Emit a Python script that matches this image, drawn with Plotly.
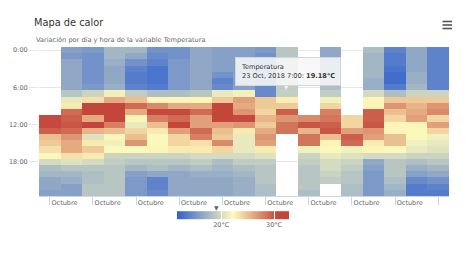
import plotly.graph_objects as go

N = None
hours = list(range(24))
days = ["12 Oct", "13 Oct", "14 Oct", "15 Oct", "16 Oct", "17 Oct", "18 Oct", "19 Oct", "20 Oct", "21 Oct",
        "22 Oct", "23 Oct", "24 Oct", "25 Oct", "26 Oct", "27 Oct", "28 Oct", "29 Oct", "30 Oct"]

d12 = [N,N,N,N,N,N,N,N,N,N,N,30.5,30.5,29.5,25,24.5,23.5,22,20,18,17.5,16.5,16.5,16]
d13 = [16,15.5,16.5,16.5,16.5,16.5,16.5,18.5,21,23,29,29.5,30,29,27,26,26,23.5,20.5,18.5,17.5,17,16,16]
d14 = [15.5,15,15,15,15,15,15.5,19.5,23.5,31,31,26,32,25.5,20.5,23,24.5,23,20,18.5,18,18,18.5,18.5]
d15 = [17.5,17.5,17,16.5,16.5,16.5,17,21.5,26,31,31,31,28,25,22.5,21.5,22,19.5,19,18.5,18.5,18.5,18.5,18.5]
d16 = [17.5,16.5,15,14,13.5,13.5,14,19,25,29,26,22.5,21,24,25,27,22,19.5,18.5,17.5,16,15.5,15.5,15.5]
d17 = [15,14.5,14,13,13,13,13.5,18,22.5,27.5,30.5,28,25,23,22,22,22.5,19.5,18.5,18,16.5,14,14,14.5]
d18 = [15,15,15.5,15.5,15.5,15.5,15.5,18,22.5,26,30.5,29,31,26.5,24,24,23,19.5,18.5,17.5,16.5,16.5,16.5,16.5]
d19 = [16.5,16.5,16.5,16.5,16.5,16.5,16.5,18.5,22.5,26,29,26.5,26.5,29,28,23.5,23,20,19,18,17,16.5,16.5,16.5]
d20 = [16,16,16,16,15,14,14.5,21,24.5,31,31,31,26.5,25,24.5,27.5,24,20,18,17.5,17,16.5,16.5,16.5]
d21 = [16,16,16,16,16,16,16,21.5,26.5,26,27,30.5,27,23,21,21,21,20,19,18,17.5,17,17,17]
d22 = [15.5,15,15,15,15,14.5,14.5,14.5,24.5,24.5,24,25.5,24.5,26,27,26.5,23,20.5,19,18.5,18.5,18.5,18,18]
d23 = [18.5,18.5,19,19,19,19,19,19.18,22.8,24.5,29.5,27,28.5,28.5,N,N,N,N,N,N,N,N,N,N]
d24 = [N,N,N,N,N,N,N,N,N,N,N,27.5,30,25.5,28.5,28.5,21.5,19.5,19,18.5,18.5,18.5,18.5,18]
d25 = [16.5,16.5,16.5,16.5,17,17,18,19,21.5,24,28,28.5,29.5,30,25,22.5,22,21,20,20,19.5,19,N,N]
d26 = [N,N,N,N,N,N,N,N,N,N,N,24,24,26.5,29.5,29,21.5,20.5,19.5,19,18.5,18.5,18,18]
d27 = [18,17.5,17.5,17.5,17.5,17,17,20,22.5,22.5,29.5,29.5,30,27,26.5,23,22.5,20,16.5,16,15.5,15.5,15.5,15.5]
d28 = [14,13.5,13.5,13,12.5,12.5,13.5,18,24.5,27,25,24,22.5,22.5,25,25,22,20,18.5,18.5,18.5,18,17.5,17]
d29 = [16.5,16.5,16.5,16.5,17,17,17.5,19.5,24.5,25.5,26,26.5,22.5,22,22,21.5,21,19.5,18,17,16,14.5,13.5,13.5]
d30 = [14,14,14,14,14,14,14,19.5,24.5,27,27.5,24,26.5,24,21.5,21,20.5,19.5,18.5,17.5,16.5,15,14,13.5]
by_day = [d12,d13,d14,d15,d16,d17,d18,d19,d20,d21,d22,d23,d24,d25,d26,d27,d28,d29,d30]

y_ticks = [0, 6, 12, 18]
y_labels = ["0:00", "6:00", "12:00", "18:00"]
x_label = "Octubre"
scale_ticks = [20, 30]
scale_labels = ["20°C", "30°C"]

W, H = 466, 262
L, R, T, B = 38.5, 449, 47, 196
px = lambda v: (v - L) / (R - L)
py = lambda v: (B - v) / (B - T)

z = [[by_day[d][h] for d in range(len(days))] for h in hours]
FONT = "DejaVu Sans"

fig = go.Figure(go.Heatmap(
    z=z, x=list(range(len(days))), y=hours,
    zmin=11.6, zmax=32.8,
    colorscale=[[0, "#3060cf"], [0.5, "#fffbbc"], [0.9, "#c4463a"], [1, "#c4463a"]],
    hoverongaps=False,
    customdata=[[days[d] for d in range(len(days))] for _ in hours],
    hovertemplate="Temperatura<br>%{customdata}, 2018 %{y}:00: <b>%{z}°C</b><extra></extra>",
    colorbar=dict(
        orientation="h", lenmode="pixels", len=112, thickness=8,
        x=201 / W, xref="container", xanchor="left",
        y=(H - 238) / H, yref="container", yanchor="bottom",
        xpad=0, ypad=0, outlinewidth=0,
        tickmode="array", tickvals=scale_ticks, ticktext=scale_labels,
        ticks="inside", ticklen=8, tickcolor="white", tickwidth=1,
        tickfont=dict(family=FONT, size=6.5, color="#666666"),
    ),
))

fig.update_layout(
    width=W, height=H, autosize=False,
    margin=dict(l=L, r=W - R, t=T, b=H - B, pad=0, autoexpand=False),
    paper_bgcolor="white", plot_bgcolor="white",
    title=dict(text="Mapa de calor", x=34 / W, xref="container", xanchor="left",
               y=1 - 22.7 / H, yref="container", yanchor="middle",
               font=dict(family=FONT, size=9.8, color="#333333")),
    xaxis=dict(
        range=[-0.5, 18.5], showgrid=False, zeroline=False,
        showline=True, linecolor="#ccd6eb", linewidth=1,
        tickmode="array",
        tickvals=[i + 0.68 for i in range(0, 18, 2)],
        ticktext=[x_label] * 9, ticks="outside", ticklen=0, tickcolor="#ccd6eb",
        tickfont=dict(family=FONT, size=6.5, color="#666666"),
        minor=dict(ticks="outside", ticklen=8, tickcolor="#ccd6eb", showgrid=False,
                   tickmode="array", tickvals=list(range(0, 19, 2))),
    ),
    yaxis=dict(
        range=[23.5, -0.5], zeroline=False, showgrid=True, gridcolor="#e6e6e6", gridwidth=1,
        tickmode="array", tickvals=y_ticks, ticktext=y_labels,
        ticks="outside", ticklen=9, tickcolor="#e6e6e6",
        tickfont=dict(family=FONT, size=6.5, color="#666666"),
    ),
    annotations=[
        dict(text="Variación por día y hora de la variable Temperatura", xref="paper", yref="paper",
             x=px(33), y=py(40), xanchor="left", yanchor="middle", showarrow=False,
             font=dict(family=FONT, size=6.6, color="#666666")),
        dict(text="▼", xref="paper", yref="paper", x=px(216), y=py(207), xanchor="center", yanchor="middle",
             showarrow=False, font=dict(family=FONT, size=6, color="#666666")),
        dict(text="▼", xref="paper", yref="paper", x=px(286.5), y=py(86.5), xanchor="center", yanchor="middle",
             showarrow=False, font=dict(family=FONT, size=8, color="#eef0f5")),
        dict(text="Temperatura<br>23 Oct, 2018 7:00: <b>19.18°C</b>", xref="paper", yref="paper",
             x=px(235), y=py(57), xanchor="left", yanchor="top", align="left", showarrow=False,
             bgcolor="rgba(247,247,247,0.88)", bordercolor="#cfd6e2", borderwidth=1, borderpad=5,
             font=dict(family=FONT, size=6.6, color="#333333")),
    ],
    shapes=[
        dict(type="line", xref="paper", yref="paper", x0=px(442.5), x1=px(452), y0=py(v), y1=py(v),
             line=dict(color="#555555", width=1.6))
        for v in (21.5, 25, 28.5)
    ],
)

fig.write_html("out.html", config={"displayModeBar": False}, post_script="document.body.style.margin='0';")
